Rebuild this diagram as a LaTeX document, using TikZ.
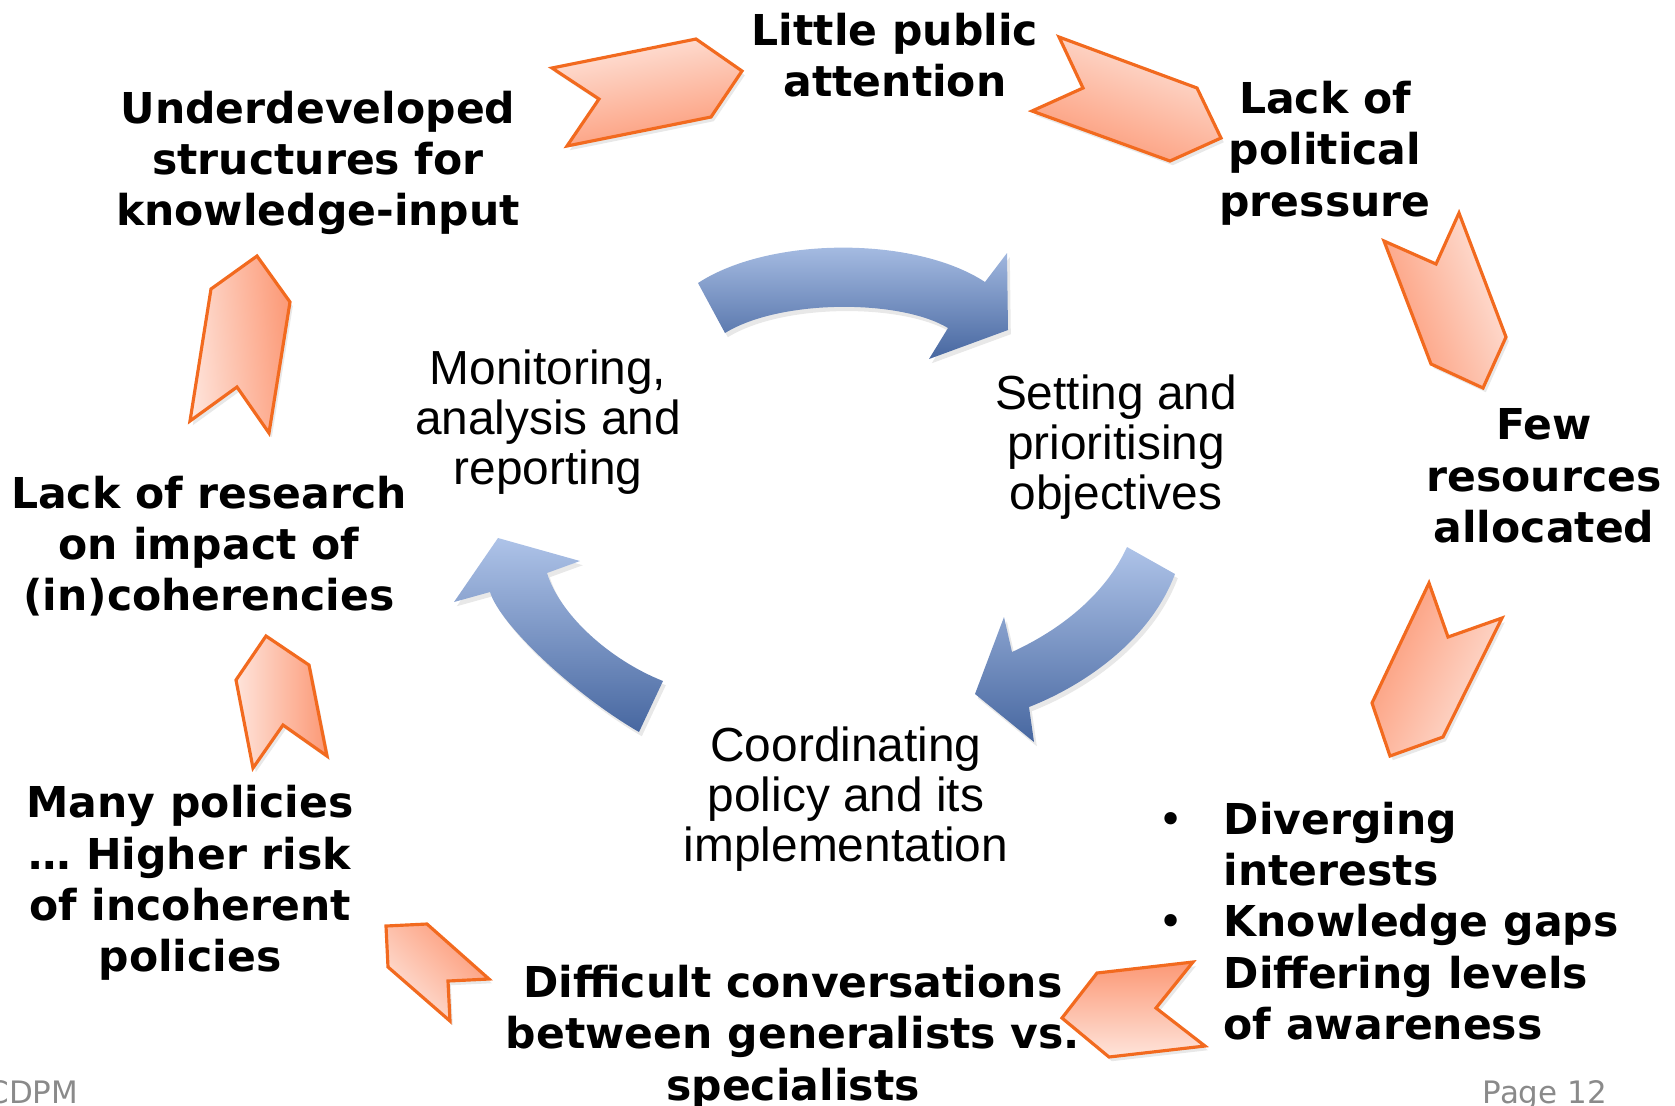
\documentclass[tikz,border=0pt]{standalone}
\usepackage{fontspec}
\setmainfont{DejaVu Sans}
\newfontfamily\arialfam{Liberation Sans}
\usetikzlibrary{shadows}
\definecolor{chevline}{HTML}{F26A1F}
\definecolor{chevlight}{HTML}{FEE4DB}
\definecolor{chevdark}{HTML}{FC9875}
\definecolor{cyclight}{HTML}{AEC3E8}
\definecolor{cycdark}{HTML}{4767A0}
\definecolor{footgray}{HTML}{8A8A8A}
\begin{document}
\begin{tikzpicture}
  [x=0.01cm,y=-0.01cm,
   chev/.style={draw=chevline,line width=0.9pt,line join=miter,top color=chevlight,bottom color=chevdark,
     drop shadow={opacity=0.18,shadow xshift=0.8pt,shadow yshift=-1.2pt}},
   cyc/.style={top color=cyclight,bottom color=cycdark,
     drop shadow={opacity=0.18,shadow xshift=0.8pt,shadow yshift=-1.2pt}},
   problem/.style={font=\bfseries\fontsize{12.1}{14.6}\selectfont,align=center,inner sep=0pt},
   stage/.style={font=\arialfam\fontsize{13.6}{14.2}\selectfont,align=center,inner sep=0pt},
   footer/.style={font=\fontsize{8.8}{10}\selectfont,text=footgray,inner sep=0pt}]
\useasboundingbox (0,0) rectangle (1675,1105);
  % Flechas naranjas (cadena exterior)
  \path[chev,shading angle=11]   (552,68) -- (696,39) -- (742,71) -- (711,117) -- (567,146) -- (599,99) -- cycle;
  \path[chev,shading angle=-20]  (1059,37) -- (1197,88) -- (1221,138) -- (1170,161) -- (1032,111) -- (1083,88) -- cycle;
  \path[chev,shading angle=-70]  (1384,241) -- (1436,264) -- (1459,213) -- (1506,337) -- (1483,388) -- (1431,364) -- cycle;
  \path[chev,shading angle=-115] (1429,583) -- (1448,637) -- (1502,618) -- (1443,737) -- (1390,756) -- (1372,703) -- cycle;
  \path[chev,shading angle=180]  (1193,962) -- (1156,1008) -- (1205,1046) -- (1109,1057) -- (1062,1018) -- (1097,973) -- cycle;
  \path[chev,shading angle=135]  (386,926) -- (427,924) -- (489,979) -- (448,981) -- (450,1021) -- (388,967) -- cycle;
  \path[chev,shading angle=90]   (266,636) -- (309,665) -- (327,756) -- (283,725) -- (253,768) -- (236,680) -- cycle;
  \path[chev,shading angle=95]   (257,256) -- (290,302) -- (269,433) -- (237,387) -- (190,421) -- (211,289) -- cycle;

  % Ciclo central (flechas azules)
  \path[cyc] (698,283) .. controls (770,236) and (915,236) .. (985,282) -- (1007,253) -- (1008,330)
    -- (929,359) -- (948,328) .. controls (900,299) and (780,299) .. (725,333) -- cycle;
  \path[cyc] (1127,547) -- (1175,574) .. controls (1150,640) and (1085,685) .. (1029,707) -- (1034,742)
    -- (975,694) -- (1004,617) -- (1012,652) .. controls (1060,630) and (1105,595) .. (1127,547) -- cycle;
  \path[cyc] (498,538) -- (580,561) -- (547,573) .. controls (560,615) and (610,660) .. (663,681)
    -- (639,732) .. controls (575,695) and (500,625) .. (490,592) -- (454,602) -- cycle;

  % Etapas
  \node[stage] (monitor) at (548,422)  {Monitoring,\\analysis and\\reporting};
  \node[stage] (setting) at (1116,447) {Setting and\\prioritising\\objectives};
  \node[stage] (coord)   at (846,799)  {Coordinating\\policy and its\\implementation};

  % Problemas
  \node[problem] (little)  at (895,55)   {Little public\\attention};
  \node[problem] (lackpol) at (1325,153) {Lack of\\political\\pressure};
  \node[problem] (few)     at (1544,476) {Few\\resources\\allocated};
  \node[problem,align=left,anchor=west] (gaps) at (1223,921)
    {\llap{\mdseries\textbullet\hspace{11.5pt}}Diverging\\interests\\\llap{\mdseries\textbullet\hspace{11.5pt}}Knowledge gaps\\Differing levels\\of awareness};
  \node[problem] (talk)    at (793,1037) {Difficult conversations\\between generalists vs.\\specialists};
  \node[problem] (many)    at (190,883)  {Many policies\\… Higher risk\\of incoherent\\policies};
  \node[problem] (lackres) at (209,546)  {Lack of research\\on impact of\\(in)coherencies};
  \node[problem] (under)   at (318,163)  {Underdeveloped\\structures for\\knowledge-input};

  \node[footer,anchor=base east] (cdpm) at (79,1103)   {CDPM};
  \node[footer,anchor=base west] (page) at (1482,1103) {Page 12};
\end{tikzpicture}
\end{document}
